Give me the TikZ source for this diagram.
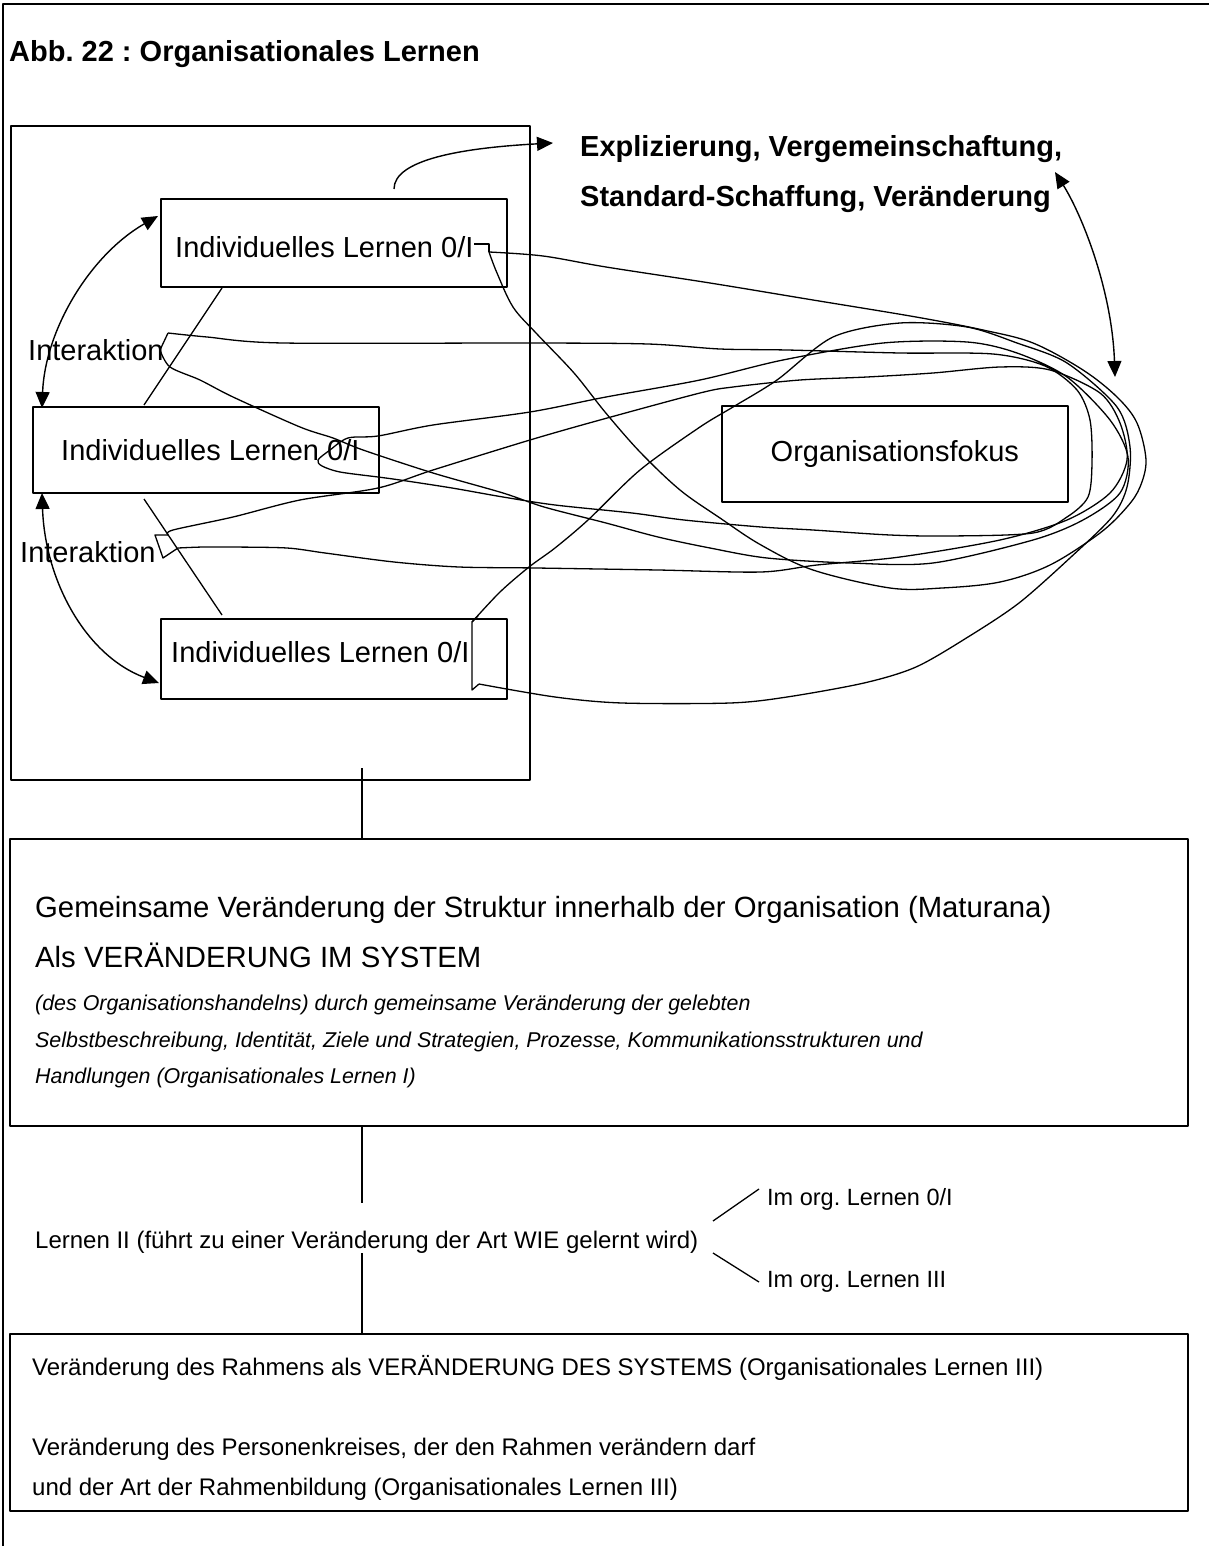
\documentclass[tikz,border=0pt]{standalone}
\usepackage{fontspec}
\setmainfont{Liberation Sans}
\usetikzlibrary{arrows.meta}
\newcommand\fsz[1]{\fontsize{#1pt}{#1pt}\selectfont}
\frenchspacing
\begin{document}
\begin{tikzpicture}[x=1pt,y=-1pt,line join=round,
  box/.style={draw,line width=1.6pt,rectangle,inner sep=0pt,anchor=north west},
  txt/.style={anchor=base west,inner sep=0pt,font=\fsz{29}},
  dtxt/.style={anchor=base west,inner sep=0pt,font=\fsz{29.3}},
  btxt/.style={anchor=base west,inner sep=0pt,font=\fsz{29}\bfseries},
  itxt/.style={anchor=base west,inner sep=0pt,font=\fsz{21.4}\itshape},
  stxt/.style={anchor=base west,inner sep=0pt,font=\fsz{24}},
  otxt/.style={anchor=base west,inner sep=0pt,font=\fsz{23.5}},
  conn/.style={line width=1.3pt},
  scrib/.style={line width=1.3pt},
  arr/.style={line width=1.4pt,-{Triangle[length=16pt,width=14pt]}},
  darr/.style={line width=1.4pt,{Triangle[length=16pt,width=14pt]}-{Triangle[length=16pt,width=14pt]}}]
\fill[white] (0,0) rectangle (1209,1546);
\useasboundingbox (0,0) rectangle (1209,1546);
% outer frame
\draw[line width=1.6pt] (3,1546) -- (3,4) -- (1209,4);
% title
\node[btxt] (title) at (9,62) {Abb. 22 : Organisationales Lernen};
% boxes
\node[box,minimum width=519pt,minimum height=654pt] (big) at (10,125) {};
\node[box,minimum width=346pt,minimum height=88pt] (boxA) at (160,198) {};
\node[box,minimum width=346pt,minimum height=86pt] (boxB) at (32,406) {};
\node[box,minimum width=346pt,minimum height=80pt] (boxC) at (160,618) {};
\node[box,minimum width=346pt,minimum height=96pt] (fokus) at (721,405) {};
\node[box,minimum width=1178pt,minimum height=287pt] (boxD) at (9,838) {};
\node[box,minimum width=1178pt,minimum height=177pt] (boxE) at (9,1333) {};
% texts in small boxes
\node[txt] (ta) at (175,258) {Individuelles Lernen 0/I};
\node[txt] (tb) at (61,460) {Individuelles Lernen 0/I};
\node[txt] (tc) at (171,662) {Individuelles Lernen 0/I};
\node[font=\fsz{29},inner sep=0pt] (tf) at (fokus.center) {Organisationsfokus};
\node[txt] (int1) at (28,360) {Interaktion};
\node[txt] (int2) at (20,562) {Interaktion};
\node[btxt] (ex1) at (580,157) {Explizierung, Vergemeinschaftung,};
\node[btxt] (ex2) at (580,207) {Standard-Schaffung, Veränderung};
% box D texts
\node[dtxt] (d1) at (35,917) {Gemeinsame Veränderung der Struktur innerhalb der Organisation (Maturana)};
\node[dtxt] (d2) at (35,967) {Als VERÄNDERUNG IM SYSTEM};
\node[itxt] (d3) at (35,1010) {(des Organisationshandelns) durch gemeinsame Veränderung der gelebten};
\node[itxt] (d4) at (35,1047) {Selbstbeschreibung, Identität, Ziele und Strategien, Prozesse, Kommunikationsstrukturen und};
\node[itxt] (d5) at (35,1083) {Handlungen (Organisationales Lernen I)};
% middle texts
\node[stxt] (l2) at (35,1248) {Lernen II (führt zu einer Veränderung der Art WIE gelernt wird)};
\node[otxt] (o1) at (767,1205) {Im org. Lernen 0/I};
\node[otxt] (o3) at (767,1287) {Im org. Lernen III};
% box E texts
\node[stxt] (e1) at (32,1375) {Veränderung des Rahmens als VERÄNDERUNG DES SYSTEMS (Organisationales Lernen III)};
\node[stxt] (e2) at (32,1455) {Veränderung des Personenkreises, der den Rahmen verändern darf};
\node[stxt] (e3) at (32,1495) {und der Art der Rahmenbildung (Organisationales Lernen III)};
% connector coordinates
\coordinate (a1) at (222,288); \coordinate (b1) at (144,405);
\coordinate (b2) at (144,499); \coordinate (c1) at (222,615);
\coordinate (v1) at (362,768); \coordinate (v2) at (362,838);
\coordinate (v3) at (362,1125); \coordinate (v4) at (362,1203);
\coordinate (v5) at (362,1253); \coordinate (v6) at (362,1333);
\coordinate (br0) at (713,1221); \coordinate (br1) at (759,1189);
\coordinate (br2) at (713,1253); \coordinate (br3) at (759,1282);
\coordinate (up0) at (394,189); \coordinate (up1) at (553,143);
\coordinate (rt0) at (1055,172); \coordinate (rt1) at (1115,377);
\coordinate (la0) at (158,216); \coordinate (la1) at (42,408);
\coordinate (lb0) at (42,493); \coordinate (lb1) at (159,683);
% straight connectors
\draw[conn] (a1) -- (b1);
\draw[conn] (b2) -- (c1);
\draw[conn] (v1) -- (v2);
\draw[conn] (v3) -- (v4);
\draw[conn] (v5) -- (v6);
\draw[conn] (br0) -- (br1);
\draw[conn] (br2) -- (br3);
% arrows
\draw[arr] (up0) .. controls (394,160) and (460,148) .. (up1);
\draw[darr] (rt0) .. controls (1082,215) and (1112,290) .. (rt1);
\draw[darr] (la0) .. controls (90,255) and (45,330) .. (la1);
\draw[darr] (lb0) .. controls (45,580) and (85,655) .. (lb1);
% scribbled loops
% loop A
\draw[scrib] (474,244) -- (489,244) -- (489,252);
\draw[scrib] plot[smooth,tension=0.55] coordinates {(489,252) (543,256) (606,267) (710,283) (813,300) (916,317) (983,330) (1033,343) (1083,370) (1117,397) (1137,423) (1146,460) (1140,487) (1127,507) (1100,533) (1050,565) (1000,582) (942,588) (890,588) (813,570) (761,545) (720,518) (680,490) (640,452) (605,412) (574,373) (536,333) (513,307) (497,273) (489,252)};
% figure eight through Interaktion 1 and box B
\draw[scrib] (160,350) -- (168,333);
\draw[scrib] plot[smooth,tension=0.5] coordinates {(168,333) (207,337) (283,343) (530,343) (648,344) (720,349) (787,350) (900,353) (993,354) (1045,366) (1077,390) (1090,420) (1092,463) (1088,497) (1067,517) (1033,533) (950,536) (890,535) (813,530) (761,527) (684,520) (632,513) (555,505) (503,497) (452,488) (400,480) (378,477) (340,472) (322,466) (318,460) (330,450) (348,438) (378,436) (433,425) (530,412) (606,397) (700,380) (783,360) (883,343) (967,342) (1017,353) (1067,377) (1110,420) (1128,457) (1120,493) (1083,520) (1033,540) (933,563) (850,563) (767,558) (710,548) (658,537) (606,523) (544,507) (503,493) (433,473) (363,450) (333,438) (300,427) (233,397) (200,380) (170,367) (160,350)};
% loop through Interaktion 2
\draw[scrib] (168,535) -- (155,535) -- (163,558) -- (178,548);
\draw[scrib] plot[smooth,tension=0.5] coordinates {(178,548) (203,547) (230,547) (287,548) (325,553) (394,562) (459,567) (536,568) (658,570) (761,572) (817,565) (900,557) (1000,540) (1067,520) (1110,493) (1127,460) (1120,423) (1100,393) (1050,370) (1000,367) (933,373) (867,377) (800,380) (733,387) (700,393) (600,420) (530,440) (433,470) (378,488) (300,500) (233,517) (173,530) (168,535)};
% loop from box C
\draw[scrib] (478,616) -- (472,622) -- (472,690) -- (479,684);
\draw[scrib] plot[smooth,tension=0.5] coordinates {(472,622) (500,592) (529,567) (555,548) (588,520) (640,470) (700,427) (733,407) (777,380) (833,337) (900,323) (967,327) (1017,343) (1067,363) (1117,407) (1130,447) (1127,487) (1112,517) (1071,557) (1019,603) (968,637) (916,667) (864,683) (787,697) (730,703) (622,703) (555,697) (479,684)};
\end{tikzpicture}
\end{document}
